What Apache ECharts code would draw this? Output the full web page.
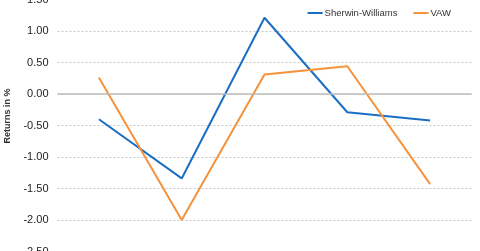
<!DOCTYPE html>
<html>
<head>
<meta charset="utf-8">
<script src="https://cdn.jsdelivr.net/npm/echarts@6/dist/echarts.min.js"></script>
<style>html,body{margin:0;padding:0;background:#fff}#c{width:480px;height:251px}</style>
</head>
<body>
<div id="c"></div>
<script>
const categories = ['P1', 'P2', 'P3', 'P4', 'P5'];
const sherwinWilliams = [-0.40, -1.34, 1.21, -0.29, -0.42];
const vaw = [0.26, -2.00, 0.31, 0.44, -1.43];
const seriesNames = ['Sherwin-Williams', 'VAW'];
const yAxisTitle = 'Returns in %';

const chart = echarts.init(document.getElementById('c'), null, {renderer: 'canvas'});
const font = 'Liberation Sans, Arial, sans-serif';
chart.setOption({
  animation: false,
  backgroundColor: '#fff',
  textStyle: {fontFamily: font},
  legend: {
    top: 3, right: 24,
    itemWidth: 15, itemHeight: 2, itemGap: 16,
    icon: 'rect',
    textStyle: {fontSize: 9.5, color: '#333', fontFamily: font, padding: [0, 0, 0, -3]},
    data: seriesNames
  },
  graphic: [{
    type: 'text', x: 7.5, y: 116, rotation: Math.PI / 2,
    style: {text: yAxisTitle, font: 'bold 9px ' + font, fill: '#333', align: 'center', verticalAlign: 'middle'}
  }],
  grid: {left: 57.5, right: 8.5, top: -0.5, height: 252, containLabel: false, outerBoundsMode: 'none'},
  xAxis: {
    type: 'category', data: categories, boundaryGap: true,
    axisLine: {show: false}, axisTick: {show: false}, axisLabel: {show: false}
  },
  yAxis: {
    type: 'value', min: -2.5, max: 1.5, interval: 0.5,
    axisLine: {show: false}, axisTick: {show: false},
    axisLabel: {fontSize: 11, color: '#222', margin: 9, fontFamily: font, formatter: v => v.toFixed(2)},
    splitLine: {show: true, lineStyle: {color: '#c8c8c8', type: [2, 2], width: 1}}
  },
  series: [
    {name: seriesNames[0], type: 'line', data: sherwinWilliams, symbol: 'none',
     lineStyle: {color: '#1a6fc4', width: 2}, itemStyle: {color: '#1a6fc4'},
     markLine: {silent: true, symbol: 'none', label: {show: false},
       lineStyle: {color: '#bdbdbd', type: 'solid', width: 1.5}, data: [{yAxis: 0}]}},
    {name: seriesNames[1], type: 'line', data: vaw, symbol: 'none',
     lineStyle: {color: '#f7913a', width: 2}, itemStyle: {color: '#f7913a'}}
  ]
});
</script>
</body>
</html>
